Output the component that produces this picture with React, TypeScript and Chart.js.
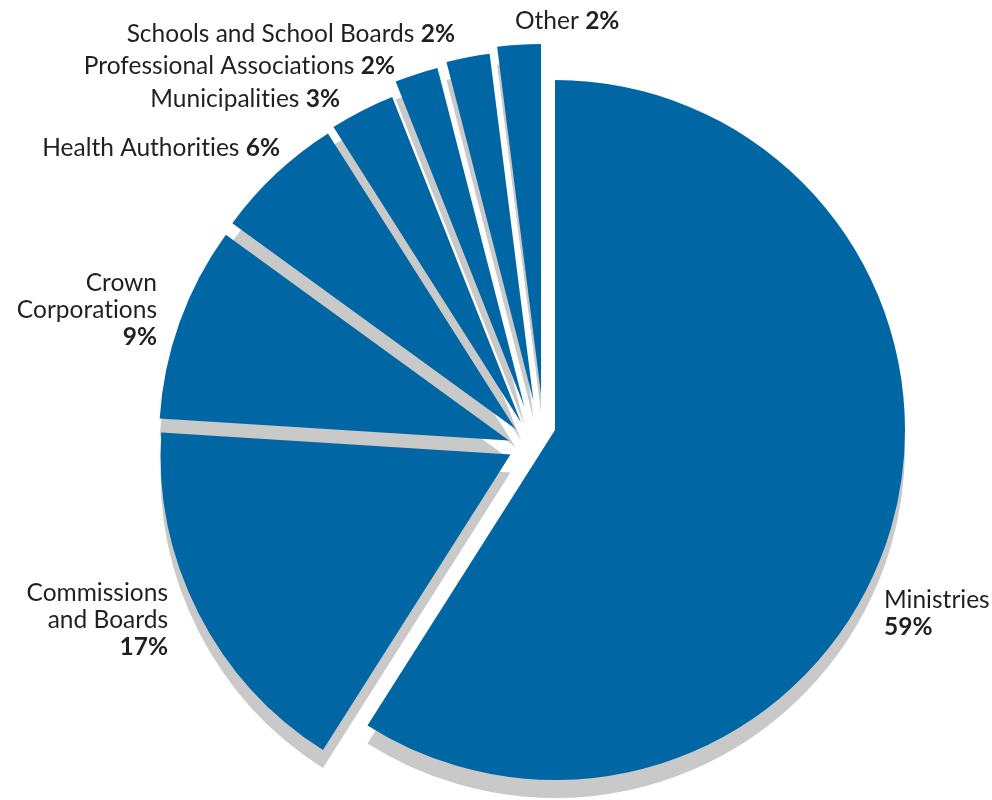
import React, { useEffect, useRef } from "react";
import { Chart, registerables } from "chart.js";

Chart.register(...registerables);

// ---- data ----
const categories = [
  "Ministries",
  "Commissions and Boards",
  "Crown Corporations",
  "Health Authorities",
  "Municipalities",
  "Professional Associations",
  "Schools and School Boards",
  "Other",
];
const shares = [59, 17, 9, 6, 3, 2, 2, 2];

// ---- style ----
const BLUE = "#0066a4";
const SHADOW_COLOR = "#c9c9c9";
const SHADOW_DX = 0;
const SHADOW_DY = 18;
const TEXT_COLOR = "#231f20";
const FONT_FAMILY = "Lato, 'Open Sans', sans-serif";
const FONT_SIZE = 24.5;
const LINE_HEIGHT = 27;
const PIE_RADIUS = 350;

// per-slice explode displacement (px) of each wedge, relative to the pie centre
const sliceShift: [number, number][] = [
  [0, 0],
  [-44.5, 24.5],
  [-46, 10.5],
  [-39.5, -1],
  [-34, -7.5],
  [-30.5, -23],
  [-21.5, -29],
  [-14, -36],
];

// label placement relative to the pie centre
type LabelLayout = { align: "left" | "right"; dx: number; dy: number; wrapAt?: number; pctOwnLine?: boolean };
const labelLayout: LabelLayout[] = [
  { align: "left", dx: 329, dy: 178, pctOwnLine: true },
  { align: "right", dx: -387, dy: 171, wrapAt: 1, pctOwnLine: true },
  { align: "right", dx: -398, dy: -139, wrapAt: 1, pctOwnLine: true },
  { align: "right", dx: -275, dy: -274 },
  { align: "right", dx: -215, dy: -323 },
  { align: "right", dx: -160, dy: -356 },
  { align: "right", dx: -100, dy: -388 },
  { align: "left", dx: -40, dy: -401 },
];

type Seg = { t: string; b?: boolean };

function buildLines(i: number): Seg[][] {
  const lay = labelLayout[i];
  const name = categories[i];
  const pct = `${shares[i]}%`;
  if (lay.pctOwnLine) {
    const lines: Seg[][] = [];
    if (lay.wrapAt) {
      const words = name.split(" ");
      lines.push([{ t: words.slice(0, lay.wrapAt).join(" ") }]);
      lines.push([{ t: words.slice(lay.wrapAt).join(" ") }]);
    } else {
      lines.push([{ t: name }]);
    }
    lines.push([{ t: pct, b: true }]);
    return lines;
  }
  return [[{ t: name + " " }, { t: pct, b: true }]];
}

const fontOf = (b?: boolean) => `${b ? 700 : 400} ${FONT_SIZE}px ${FONT_FAMILY}`;

const explodePlugin = {
  id: "explodeShadow",
  beforeDatasetDraw(chart: any, args: any) {
    const ctx: CanvasRenderingContext2D = chart.ctx;
    const arcs = args.meta.data;
    // shadows
    arcs.forEach((arc: any, i: number) => {
      const [sx, sy] = sliceShift[i];
      const saved = arc.options;
      arc.options = { ...saved, backgroundColor: SHADOW_COLOR, borderWidth: 0 };
      ctx.save();
      ctx.translate(sx + SHADOW_DX, sy + SHADOW_DY);
      arc.draw(ctx);
      ctx.restore();
      arc.options = saved;
    });
    // wedges
    arcs.forEach((arc: any, i: number) => {
      const [sx, sy] = sliceShift[i];
      ctx.save();
      ctx.translate(sx, sy);
      arc.draw(ctx);
      ctx.restore();
    });
    return false;
  },
  afterDraw(chart: any) {
    const ctx: CanvasRenderingContext2D = chart.ctx;
    const arcs = chart.getDatasetMeta(0).data;
    ctx.save();
    ctx.fillStyle = TEXT_COLOR;
    ctx.textBaseline = "alphabetic";
    ctx.textAlign = "left";
    try {
      (ctx as any).textRendering = "optimizeSpeed";
    } catch (e) {
      /* ignore */
    }
    arcs.forEach((arc: any, i: number) => {
      const { x, y } = arc.getProps(["x", "y"], true);
      const lay = labelLayout[i];
      const lines = buildLines(i);
      lines.forEach((segs, li) => {
        const widths = segs.map((s) => {
          ctx.font = fontOf(s.b);
          return ctx.measureText(s.t).width;
        });
        const total = widths.reduce((a, b) => a + b, 0);
        let px = x + lay.dx - (lay.align === "right" ? total : 0);
        const py = y + lay.dy + li * LINE_HEIGHT;
        segs.forEach((s, si) => {
          ctx.font = fontOf(s.b);
          ctx.fillText(s.t, px, py);
          px += widths[si];
        });
      });
    });
    ctx.restore();
  },
};

export default function App() {
  const canvasRef = useRef<HTMLCanvasElement | null>(null);

  useEffect(() => {
    if (!canvasRef.current) return;
    const chart = new Chart(canvasRef.current, {
      type: "pie",
      data: {
        labels: categories,
        datasets: [
          {
            data: shares,
            backgroundColor: categories.map(() => BLUE),
            borderWidth: 0,
          },
        ],
      },
      options: {
        animation: false,
        responsive: true,
        maintainAspectRatio: false,
        events: [],
        radius: PIE_RADIUS,
        layout: { padding: { left: 118, right: 0, top: 60, bottom: 0 } },
        plugins: {
          legend: { display: false },
          tooltip: { enabled: false },
        },
      } as any,
      plugins: [explodePlugin],
    });
    return () => chart.destroy();
  }, []);

  return (
    <div style={{ position: "absolute", left: 0, top: 0, width: 992, height: 800, background: "#fff" }}>
      <canvas ref={canvasRef} />
    </div>
  );
}
